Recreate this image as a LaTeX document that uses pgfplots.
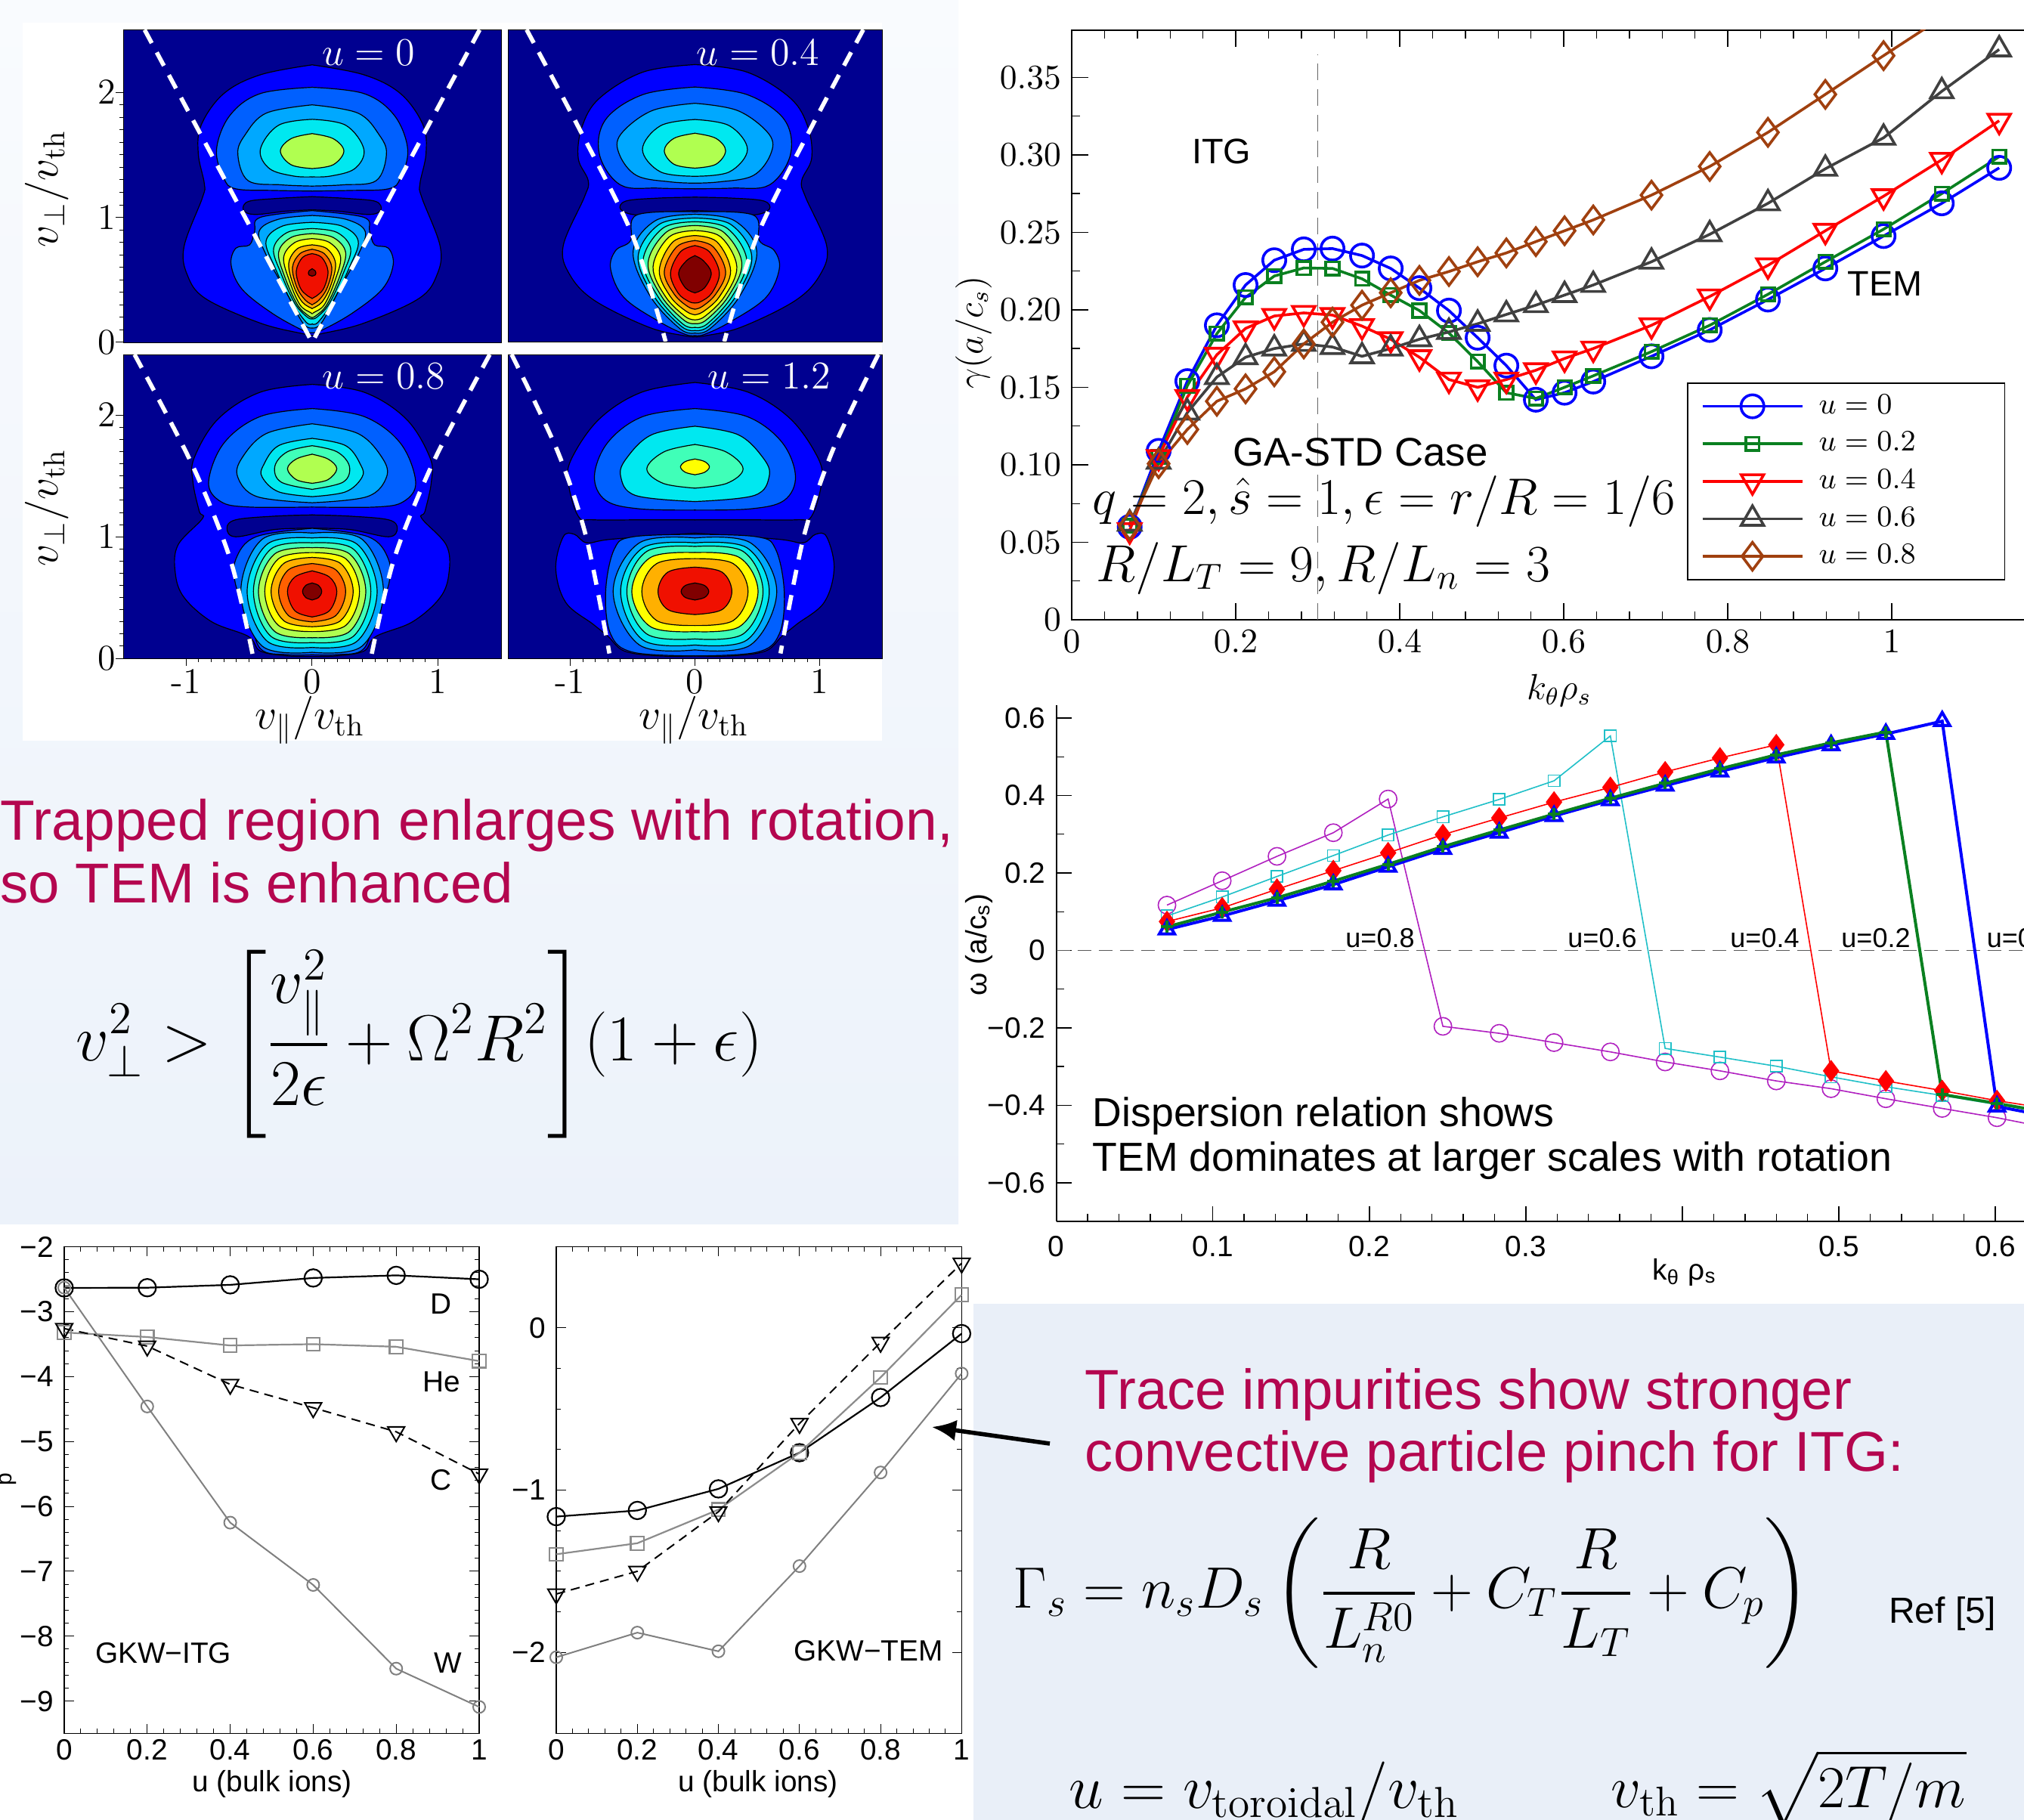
\RequirePackage{fix-cm}
\documentclass[border=0pt]{standalone}
\usepackage[no-math]{fontspec}
\setmainfont{Liberation Sans}
\usepackage{amsmath}
\usepackage{pgfplots}
\usetikzlibrary{arrows.meta}
\pgfplotsset{compat=1.18}
\definecolor{navy}{HTML}{000090}
\definecolor{ca}{HTML}{0000FF}
\definecolor{cb}{HTML}{0060FF}
\definecolor{cc}{HTML}{00A8FF}
\definecolor{cd}{HTML}{00E8F0}
\definecolor{ce}{HTML}{40FFB8}
\definecolor{cf}{HTML}{B0FF50}
\definecolor{cg}{HTML}{FFFF00}
\definecolor{ch}{HTML}{FFB000}
\definecolor{ci}{HTML}{FF6000}
\definecolor{cj}{HTML}{F01000}
\definecolor{ck}{HTML}{800000}
\definecolor{crim}{HTML}{B4064F}
\definecolor{brn}{HTML}{A0400F}
\definecolor{grn}{HTML}{0A8020}
\definecolor{mag}{HTML}{B020C0}
\definecolor{cya}{HTML}{20C0C8}
\definecolor{bgtop}{HTML}{F9FBFE}
\definecolor{bgbot}{HTML}{ECF2FA}
\definecolor{bgbox}{HTML}{E9EFF8}
\newcommand\fs[1]{\fontsize{#1}{#1}\selectfont}
\newcommand\cn[2]{%
 \addplot[fill=#1,draw=black,line width=.3pt,smooth,tension=.6] table[header=false,row sep=\\,x expr=\thisrowno{0}-0.004,y index=1]{#2};
 \addplot[fill=#1,draw=black,line width=.3pt,smooth,tension=.6] table[header=false,row sep=\\,x expr=-\thisrowno{0}+0.004,y index=1]{#2};
}
\newcommand\wdash[1]{%
 \addplot[white,line width=1.4pt,dash pattern=on 5pt off 3.5pt,smooth] coordinates {#1};
}
\newcommand\lgd[1]{\makebox[58pt][l]{\hspace*{3pt}$u=#1$}}
\pgfplotsset{
 cpanel/.style={scale only axis,xmin=-1.5,xmax=1.5,ymin=0,ymax=2.5,axis background/.style={fill=navy},
  axis line style={line width=.2pt},tick align=outside,tick style={black,line width=.25pt},
  major tick length=2.4pt,minor tick length=1.2pt,minor tick num=9,
  ticklabel style={font=\fs{12}},xticklabel style={yshift=2pt},yticklabel style={xshift=3.4pt},
  xtick pos=bottom,ytick pos=left},
 gk/.style={scale only axis,xmin=0,xmax=1,xtick={0,.2,.4,.6,.8,1},xticklabels={0,0.2,0.4,0.6,0.8,1},minor x tick num=4,
  tick align=inside,major tick length=3.2pt,minor tick length=1.6pt,tick style={black,line width=.25pt},
  axis line style={line width=.35pt},ticklabel style={font=\fs{9.7}},clip=false,
  xticklabel style={yshift=1.5pt},tick pos=both},
}
\begin{document}
\begin{tikzpicture}
\useasboundingbox (0,0) rectangle (669.5pt,-602pt);
\fill[white] (0,0) rectangle (669.5pt,-602pt);
\shade[top color=bgtop,bottom color=bgbot] (0,0) rectangle (317pt,-405pt);
\fill[white] (7.5pt,-7.5pt) rectangle (291.8pt,-245pt);
\fill[white] (0,-405pt) rectangle (322pt,-602pt);
\fill[bgbox] (322pt,-431.2pt) rectangle (669.5pt,-602pt);

% ---------------- contour panels
\begin{axis}[cpanel,at={(40.75pt,-113.25pt)},anchor=south west,width=125pt,height=103.4pt,
  xtick=\empty,ytick={0,1,2},yticklabels={$0$,$1$,$2$}]
\cn{ca}{0 2.22\\.415 2.14\\.705 1.99\\.884 1.74\\.908 1.51\\.86 1.27\\.874 1.16\\1.02 .77\\.995 .54\\.85 .35\\.415 .154\\.08 .07\\0 .058\\}
\cn{navy}{0 1.166\\.3 1.15\\.51 1.127\\.55 1.06\\.46 1.023\\.2 1.05\\0 1.06\\}
\cn{cb}{0 2.04\\.415 1.99\\.657 1.815\\.763 1.544\\.705 1.313\\.61 1.228\\.3 1.215\\0 1.21\\}
\cn{cc}{0 1.9\\.367 1.834\\.536 1.66\\.594 1.506\\.512 1.293\\.25 1.26\\0 1.25\\}
\cn{cd}{0 1.784\\.27 1.737\\.415 1.544\\.343 1.39\\.15 1.33\\0 1.324\\}
\cn{cf}{0 1.67\\.17 1.63\\.256 1.53\\.17 1.42\\0 1.39\\}
\cn{cb}{0 1.054\\.415 1\\.46 .888\\.5 .78\\.61 .753\\.647 .618\\.56 .425\\.32 .232\\.08 .097\\0 .077\\}
\cn{cc}{0 1.015\\.27 .985\\.425 .888\\.367 .695\\.222 .425\\.077 .154\\0 .116\\}
\cn{cd}{0 .96\\.24 .93\\.37 .81\\.3 .6\\.17 .33\\.05 .16\\0 .15\\}
\cn{ce}{0 .91\\.2 .88\\.31 .75\\.25 .55\\.14 .31\\.04 .2\\0 .19\\}
\cn{cf}{0 .87\\.17 .84\\.27 .72\\.22 .52\\.12 .3\\.03 .21\\0 .2\\}
\cn{cg}{0 .83\\.14 .8\\.23 .68\\.18 .48\\.1 .3\\.02 .24\\0 .23\\}
\cn{ch}{0 .78\\.12 .75\\.19 .63\\.15 .45\\.08 .32\\0 .27\\}
\cn{ci}{0 .745\\.1 .71\\.16 .6\\.125 .44\\.06 .34\\0 .3\\}
\cn{cj}{0 .71\\.08 .68\\.13 .57\\.1 .44\\.05 .38\\0 .35\\}
\cn{ck}{0 .59\\.03 .57\\.03 .54\\0 .53\\}
\wdash{(-1.33,2.5)(0,0)}
\wdash{(1.33,2.5)(0,0)}
\end{axis}
\begin{axis}[cpanel,at={(168pt,-113pt)},anchor=south west,width=123.75pt,height=103.2pt,
  xtick=\empty,ytick=\empty]
\cn{ca}{0 2.22\\.42 2.16\\.77 1.95\\.91 1.72\\.94 1.47\\.86 1.29\\.89 1.16\\1.06 .77\\1.01 .54\\.81 .33\\.375 .116\\.08 .046\\0 .04\\}
\cn{navy}{0 1.158\\.3 1.15\\.556 1.127\\.6 1.06\\.47 1.015\\.2 1.04\\0 1.05\\}
\cn{cb}{0 2.04\\.42 1.98\\.72 1.78\\.77 1.5\\.6 1.255\\.3 1.23\\0 1.225\\}
\cn{cc}{0 1.91\\.35 1.85\\.6 1.66\\.61 1.5\\.47 1.33\\.2 1.28\\0 1.27\\}
\cn{cd}{0 1.78\\.28 1.73\\.425 1.54\\.28 1.36\\0 1.325\\}
\cn{cf}{0 1.67\\.17 1.63\\.25 1.53\\.17 1.42\\0 1.39\\}
\cn{cb}{0 1.04\\.47 1.015\\.52 .81\\.64 .73\\.68 .58\\.57 .35\\.28 .154\\.08 .058\\0 .05\\}
\cn{cc}{0 1.02\\.32 .97\\.5 .72\\.36 .36\\.12 .1\\0 .07\\}
\cn{cd}{0 .99\\.29 .94\\.46 .68\\.33 .36\\.11 .12\\0 .09\\}
\cn{ce}{0 .96\\.26 .91\\.42 .65\\.3 .36\\.1 .14\\0 .115\\}
\cn{cf}{0 .93\\.23 .88\\.38 .63\\.27 .36\\.09 .17\\0 .145\\}
\cn{cg}{0 .89\\.21 .84\\.34 .6\\.24 .36\\.08 .2\\0 .175\\}
\cn{ch}{0 .85\\.18 .8\\.29 .57\\.2 .36\\.07 .24\\0 .215\\}
\cn{ci}{0 .81\\.15 .76\\.25 .56\\.17 .38\\.06 .28\\0 .26\\}
\cn{cj}{0 .77\\.12 .72\\.2 .55\\.14 .39\\.05 .32\\0 .31\\}
\cn{ck}{0 .69\\.07 .65\\.135 .55\\.08 .43\\0 .39\\}
\wdash{(-1.35,2.5)(-.94,1.73)(-.5,.85)(-.235,0)}
\wdash{(1.35,2.5)(.94,1.73)(.5,.85)(.235,0)}
\end{axis}
\begin{axis}[cpanel,at={(40.75pt,-217.75pt)},anchor=south west,width=125pt,height=100.5pt,
  xtick={-1,0,1},xticklabels={$\mathchar"002D 1$,$0$,$1$},ytick={0,1,2},yticklabels={$0$,$1$,$2$}]
\cn{ca}{0 2.254\\.415 2.19\\.75 1.97\\.94 1.65\\.95 1.45\\.9 1.21\\.875 1.15\\1.07 .93\\1.09 .7\\1.02 .5\\.8 .3\\.51 .18\\.415 .06\\.2 .02\\0 .016\\}
\cn{navy}{0 1.18\\.3 1.17\\.61 1.14\\.68 1.07\\.61 1\\.3 1.06\\0 1.07\\}
\cn{cb}{0 2.055\\.415 1.99\\.705 1.77\\.826 1.45\\.73 1.29\\.51 1.245\\0 1.245\\}
\cn{cc}{0 1.93\\.367 1.85\\.56 1.65\\.594 1.49\\.44 1.33\\0 1.28\\}
\cn{cd}{0 1.81\\.27 1.75\\.39 1.59\\.4 1.49\\.27 1.37\\0 1.33\\}
\cn{ce}{0 1.75\\.2 1.7\\.3 1.58\\.25 1.45\\0 1.39\\}
\cn{cf}{0 1.68\\.13 1.64\\.2 1.56\\.13 1.47\\0 1.44\\}
\cn{cb}{0 1.07\\.45 1\\.61 .815\\.61 .6\\.51 .38\\.415 .08\\.2 .03\\0 .03\\}
\cn{cc}{0 1.03\\.4 .98\\.57 .55\\.4 .1\\0 .05\\}
\cn{cd}{0 .99\\.36 .94\\.52 .55\\.36 .14\\0 .09\\}
\cn{ce}{0 .95\\.33 .9\\.47 .55\\.33 .18\\0 .13\\}
\cn{cf}{0 .91\\.3 .86\\.43 .55\\.3 .22\\0 .17\\}
\cn{cg}{0 .87\\.27 .82\\.38 .55\\.27 .27\\0 .22\\}
\cn{ch}{0 .83\\.23 .78\\.33 .55\\.23 .31\\0 .26\\}
\cn{ci}{0 .78\\.19 .73\\.27 .55\\.19 .35\\0 .3\\}
\cn{cj}{0 .72\\.14 .67\\.2 .55\\.14 .39\\0 .34\\}
\cn{ck}{0 .62\\.055 .6\\.08 .55\\.055 .5\\0 .48\\}
\wdash{(-1.41,2.5)(-.96,1.61)(-.65,.815)(-.47,.02)}
\wdash{(1.41,2.5)(.96,1.61)(.65,.815)(.47,.02)}
\end{axis}
\begin{axis}[cpanel,at={(168pt,-217.75pt)},anchor=south west,width=123.75pt,height=100.5pt,
  xtick={-1,0,1},xticklabels={$\mathchar"002D 1$,$0$,$1$},ytick=\empty]
\cn{ca}{0 2.27\\.43 2.19\\.77 1.97\\.99 1.65\\1.02 1.45\\.94 1.17\\.82 1.14\\.4 1.14\\0 1.14\\}
\cn{ca}{0 1.03\\.67 .98\\.87 .95\\.97 1.02\\1.06 1\\1.12 .74\\1.04 .46\\.82 .28\\.7 .18\\.57 .06\\.3 .02\\0 .02\\}
\cn{cb}{0 2.055\\.42 1.99\\.7 1.78\\.81 1.5\\.72 1.3\\.45 1.23\\0 1.22\\}
\cn{cd}{0 1.91\\.35 1.84\\.55 1.65\\.6 1.5\\.48 1.34\\0 1.29\\}
\cn{ce}{0 1.76\\.25 1.7\\.39 1.56\\.26 1.44\\0 1.4\\}
\cn{cg}{0 1.64\\.08 1.62\\.12 1.575\\.08 1.53\\0 1.51\\}
\cn{cb}{0 1.02\\.5 1\\.65 .9\\.72 .55\\.68 .2\\.5 .05\\0 .02\\}
\cn{cc}{0 .99\\.45 .95\\.66 .55\\.45 .11\\0 .07\\}
\cn{cd}{0 .95\\.42 .91\\.6 .55\\.42 .15\\0 .11\\}
\cn{ce}{0 .92\\.39 .88\\.55 .55\\.39 .2\\0 .16\\}
\cn{cg}{0 .87\\.36 .83\\.51 .55\\.36 .26\\0 .22\\}
\cn{ch}{0 .82\\.31 .78\\.43 .55\\.31 .31\\0 .27\\}
\cn{cj}{0 .75\\.22 .71\\.3 .55\\.22 .4\\0 .36\\}
\cn{ck}{0 .62\\.08 .6\\.115 .55\\.08 .5\\0 .48\\}
\wdash{(-1.47,2.5)(-1.1,1.7)(-.87,.99)(-.686,.04)}
\wdash{(1.47,2.5)(1.1,1.7)(.87,.99)(.686,.04)}
\end{axis}

% ---------------- growth rate
\begin{axis}[scale only axis,at={(354.5pt,-205pt)},anchor=south west,width=320pt,height=195pt,
  xmin=0,xmax=1.1797,ymin=0,ymax=.3804,
  xtick={0,.2,.4,.6,.8,1},xticklabels={$0$,$0.2$,$0.4$,$0.6$,$0.8$,$1$},minor x tick num=4,
  ytick={0,.05,.1,.15,.2,.25,.3,.35},yticklabels={$0$,$0.05$,$0.10$,$0.15$,$0.20$,$0.25$,$0.30$,$0.35$},minor y tick num=1,
  ytick pos=left,
  tick align=inside,major tick length=5.6pt,minor tick length=2.8pt,tick style={black,line width=.35pt},
  axis line style={line width=.5pt},ticklabel style={font=\fs{11.4}},
  legend style={at={(.636,.4026)},anchor=north west,draw=black,line width=.4pt,font=\fs{9.8},row sep=0pt,inner sep=1.5pt,inner xsep=4.5pt,
    cells={anchor=west},nodes={minimum height=12.4pt,inner ysep=0pt,inner xsep=2pt}},
  legend image code/.code={\draw[mark repeat=2,mark phase=2,#1] plot coordinates {(0pt,0pt)(16.5pt,0pt)(33pt,0pt)};},
  legend cell align=left]
\addplot[black!60,line width=.3pt,dash pattern=on 5.5pt off 3pt,forget plot] coordinates {(.3,0)(.3,.365)};
\addplot[blue,line width=.9pt,mark=o,mark size=3.8pt,mark options={solid}] coordinates {(.0707,.06)(.106,.109)(.141,.154)(.177,.19)(.212,.216)(.247,.232)(.283,.239)(.318,.2395)(.354,.235)(.389,.2267)(.424,.214)(.46,.1995)(.495,.182)(.53,.164)(.566,.142)(.601,.1465)(.636,.1537)(.707,.17)(.778,.187)(.849,.2066)(.919,.2267)(.99,.2476)(1.061,.2687)(1.131,.2916)};
\addplot[grn,line width=.9pt,mark=square,mark size=2.2pt] coordinates {(.0707,.0607)(.106,.105)(.141,.151)(.177,.1846)(.212,.208)(.247,.2218)(.283,.227)(.318,.2267)(.354,.22)(.389,.2095)(.424,.1995)(.46,.185)(.495,.1666)(.53,.1465)(.566,.1428)(.601,.15)(.636,.1574)(.707,.173)(.778,.19)(.849,.21)(.919,.231)(.99,.252)(1.061,.275)(1.131,.2988)};
\addplot[red,line width=.9pt,mark=triangle,mark size=4.3pt,mark options={rotate=180}] coordinates {(.0707,.0578)(.106,.105)(.141,.1437)(.177,.171)(.212,.188)(.247,.196)(.283,.198)(.318,.1966)(.354,.1895)(.389,.181)(.424,.1694)(.46,.155)(.495,.15)(.53,.155)(.566,.161)(.601,.1686)(.636,.175)(.707,.19)(.778,.2086)(.849,.2287)(.919,.251)(.99,.2733)(1.061,.2968)(1.131,.322)};
\addplot[black!75,line width=.9pt,mark=triangle,mark size=4.3pt] coordinates {(.0707,.062)(.106,.102)(.141,.1337)(.177,.1566)(.212,.1694)(.247,.175)(.283,.178)(.318,.176)(.354,.17)(.389,.175)(.424,.181)(.46,.1857)(.495,.191)(.53,.197)(.566,.203)(.601,.2095)(.636,.216)(.707,.231)(.778,.2487)(.849,.2687)(.919,.291)(.99,.311)(1.061,.341)(1.131,.368)};
\addplot[brn,line width=.9pt,mark=diamond,mark size=4.6pt] coordinates {(.0707,.0607)(.106,.1007)(.141,.1228)(.177,.141)(.212,.149)(.247,.16)(.283,.178)(.318,.192)(.354,.203)(.389,.211)(.424,.219)(.46,.2247)(.495,.231)(.53,.2367)(.566,.244)(.601,.251)(.636,.258)(.707,.274)(.778,.2925)(.849,.3145)(.919,.339)(.99,.364)(1.061,.3885)(1.131,.415)};
\legend{\lgd{0},\lgd{0.2},\lgd{0.4},\lgd{0.6},\lgd{0.8}}
\end{axis}

% ---------------- dispersion
\begin{axis}[scale only axis,at={(349.4pt,-403.9pt)},anchor=south west,width=325.6pt,height=170.6pt,
  xmin=0,xmax=.6289,ymin=-.699,ymax=.633,
  axis x line*=bottom,axis y line*=left,
  xtick={0,.1,.2,.3,.4,.5,.6},xticklabels={0,0.1,0.2,0.3,,0.5,0.6},minor x tick num=4,
  ytick={-.6,-.4,-.2,0,.2,.4,.6},yticklabels={−0.6,−0.4,−0.2,0,0.2,0.4,0.6},minor y tick num=1,
  tick align=inside,major tick length=5pt,minor tick length=2.5pt,tick style={black,line width=.35pt},
  axis line style={line width=.5pt},ticklabel style={font=\fs{9.7}},xticklabel style={yshift=-1.5pt}]
\addplot[black!65,line width=.35pt,dash pattern=on 4.5pt off 2.5pt] coordinates {(0,0)(.64,0)};
\addplot[mag,line width=.4pt,mark=o,mark size=2.9pt] coordinates {(.0707,.117)(.106,.18)(.141,.243)(.177,.304)(.212,.391)(.247,-.196)(.283,-.214)(.318,-.238)(.354,-.262)(.389,-.288)(.424,-.311)(.46,-.337)(.495,-.357)(.53,-.383)(.566,-.408)(.601,-.432)(.636,-.46)};
\addplot[cya,line width=.4pt,mark=square,mark size=1.9pt] coordinates {(.0707,.089)(.106,.138)(.141,.191)(.177,.245)(.212,.298)(.247,.345)(.283,.39)(.318,.438)(.354,.554)(.389,-.253)(.424,-.2755)(.46,-.299)(.495,-.3265)(.53,-.352)(.566,-.3745)(.601,-.398)(.636,-.42)};
\addplot[red,line width=.4pt,mark=diamond*,mark size=3.3pt] coordinates {(.0707,.0745)(.106,.11)(.141,.158)(.177,.206)(.212,.252)(.247,.299)(.283,.342)(.318,.383)(.354,.421)(.389,.461)(.424,.497)(.46,.531)(.495,-.311)(.53,-.337)(.566,-.362)(.601,-.388)(.636,-.41)};
\addplot[blue,line width=1pt,mark=triangle,mark size=2.9pt] coordinates {(.0707,.054)(.106,.089)(.141,.128)(.177,.17)(.212,.216)(.247,.262)(.283,.304)(.318,.347)(.354,.388)(.389,.4255)(.424,.462)(.46,.498)(.495,.53)(.53,.559)(.566,.592)(.601,-.403)(.636,-.43)};
\addplot[grn,line width=1pt,mark=+,mark size=2pt] coordinates {(.0707,.061)(.106,.099)(.141,.136)(.177,.179)(.212,.2224)(.247,.268)(.283,.311)(.318,.352)(.354,.393)(.389,.4316)(.424,.469)(.46,.505)(.495,.536)(.53,.564)(.566,-.372)(.601,-.395)(.636,-.42)};
\end{axis}

% ---------------- GKW ITG
\begin{axis}[gk,at={(21.25pt,-573.4pt)},anchor=south west,width=137.25pt,height=161pt,ymin=-9.5,ymax=-2,
  ytick={-9,-8,-7,-6,-5,-4,-3,-2},yticklabels={−9,−8,−7,−6,−5,−4,−3,−2},minor y tick num=4]
\addplot[black,line width=.55pt,mark=o,mark size=2.9pt] coordinates {(0,-2.633)(.2,-2.63)(.4,-2.586)(.6,-2.48)(.8,-2.44)(1,-2.5)};
\addplot[black!45,line width=.55pt,mark=square,mark size=2.2pt] coordinates {(0,-3.32)(.2,-3.39)(.4,-3.52)(.6,-3.5)(.8,-3.54)(1,-3.76)};
\addplot[black,line width=.5pt,dash pattern=on 3pt off 2pt,mark=triangle,mark size=3.2pt,mark options={solid,rotate=180}] coordinates {(0,-3.26)(.2,-3.53)(.4,-4.12)(.6,-4.48)(.8,-4.85)(1,-5.5)};
\addplot[black!50,line width=.5pt,mark=o,mark size=2pt] coordinates {(0,-2.63)(.2,-4.46)(.4,-6.25)(.6,-7.21)(.8,-8.5)(1,-9.09)};
\end{axis}
% ---------------- GKW TEM
\begin{axis}[gk,at={(184pt,-573.4pt)},anchor=south west,width=134.1pt,height=161pt,ymin=-2.5,ymax=.5,
  ytick={-2,-1,0},yticklabels={−2,−1,0},minor y tick num=3,tick pos=both]
\addplot[black,line width=.55pt,mark=o,mark size=2.9pt] coordinates {(0,-1.163)(.2,-1.125)(.4,-.992)(.6,-.769)(.8,-.429)(1,-.035)};
\addplot[black!45,line width=.55pt,mark=square,mark size=2.2pt] coordinates {(0,-1.395)(.2,-1.327)(.4,-1.12)(.6,-.769)(.8,-.305)(1,.204)};
\addplot[black,line width=.5pt,dash pattern=on 3pt off 2pt,mark=triangle,mark size=3.2pt,mark options={solid,rotate=180}] coordinates {(0,-1.64)(.2,-1.5)(.4,-1.133)(.6,-.589)(.8,-.089)(1,.399)};
\addplot[black!50,line width=.5pt,mark=o,mark size=2pt] coordinates {(0,-2.03)(.2,-1.878)(.4,-1.993)(.6,-1.468)(.8,-.891)(1,-.281)};
\end{axis}

% ---------------- annotations
\begin{scope}[x=0.25pt,y=-0.25pt]
\node[rotate=90,font=\fs{14.4}] at (62,250) {$v_\perp/v_{\rm th}$};
\node[rotate=90,font=\fs{14.4}] at (62,672) {$v_\perp/v_{\rm th}$};
\node[font=\fs{14.4}] at (410,953) {$v_\parallel/v_{\rm th}$};
\node[font=\fs{14.4}] at (918,953) {$v_\parallel/v_{\rm th}$};
\node[white,font=\fs{13}] at (488,70) {$u=0$};
\node[white,font=\fs{13}] at (1003,70) {$u=0.4$};
\node[white,font=\fs{13}] at (508,498) {$u=0.8$};
\node[white,font=\fs{13}] at (1018,498) {$u=1.2$};

\node[crim,anchor=west,inner sep=0,font=\fs{18.75}] at (0,1092) {Trapped region enlarges with rotation,};
\node[crim,anchor=west,inner sep=0,font=\fs{18.6}] at (0,1168) {so TEM is enhanced};
\node[anchor=west,inner sep=0,font=\fs{21.6}] at (100,1382) {$\displaystyle v_\perp^2>\Bigg[\frac{v_\parallel^2}{2\epsilon}+\Omega^2R^2\Bigg](1+\epsilon)$};

\node[font=\fs{11.7}] at (1616,200) {ITG};
\node[font=\fs{11.7}] at (2494,375) {TEM};
\node[font=\fs{13.2}] at (1800,598) {GA-STD Case};
\node[anchor=west,inner sep=0,font=\fs{17}] at (1445,663) {$q=2,\hat{s}=1,\epsilon=r/R=1/6$};
\node[anchor=west,inner sep=0,font=\fs{17.28}] at (1450,752) {$R/L_T=9,R/L_n=3$};
\node[font=\fs{12}] at (2063,913) {$k_\theta\rho_s$};
\node[rotate=90,font=\fs{12}] at (1288,440) {$\gamma(a/c_s)$};

\node[rotate=90,font=\fs{9.7}] at (1295,1250) {ω (a/c$_{\text{s}}$)};
\node[font=\fs{9.7}] at (2229,1683) {k$_{\text{θ}}$ ρ$_{\text{s}}$};
\node[anchor=base west,inner sep=0,font=\fs{13.4}] at (1445,1490) {Dispersion relation shows};
\node[anchor=base west,inner sep=0,font=\fs{13.4}] at (1445,1549) {TEM dominates at larger scales with rotation};
\node[font=\fs{9}] at (1826,1241) {u=0.8};
\node[font=\fs{9}] at (2120,1241) {u=0.6};
\node[font=\fs{9}] at (2335,1241) {u=0.4};
\node[font=\fs{9}] at (2482,1241) {u=0.2};
\node[anchor=west,inner sep=0,font=\fs{9}] at (2628,1241) {u=0};

\node[font=\fs{9.7}] at (584,1725) {D};
\node[font=\fs{9.7}] at (584,1828) {He};
\node[font=\fs{9.7}] at (584,1958) {C};
\node[font=\fs{9.7}] at (593,2200) {W};
\node[font=\fs{9.7}] at (216,2187) {GKW−ITG};
\node[font=\fs{9.7}] at (1149,2184) {GKW−TEM};
\node[font=\fs{9.7}] at (360,2360) {u (bulk ions)};
\node[font=\fs{9.7}] at (1003,2360) {u (bulk ions)};
\node[rotate=90,font=\fs{7.5},inner sep=0] at (11,1957) {p};
\draw[black,line width=1.4pt,-{Latex[length=8pt,width=7pt]}] (1389,1910) -- (1233,1888);

\node[crim,anchor=west,inner sep=0,font=\fs{18.6}] at (1435,1845) {Trace impurities show stronger};
\node[crim,anchor=west,inner sep=0,font=\fs{18.6}] at (1435,1927) {convective particle pinch for ITG:};
\node[anchor=west,inner sep=0,font=\fs{19.3}] at (1340,2108) {$\displaystyle \Gamma_s=n_sD_s\left(\frac{R}{L_n^{R0}}+C_T\frac{R}{L_T}+C_p\right)$};
\node[font=\fs{12}] at (2570,2135) {Ref [5]};
\node[anchor=west,inner sep=0,font=\fs{20.5}] at (1414,2372) {$u=v_{\rm toroidal}/v_{\rm th}$};
\node[anchor=west,inner sep=0,font=\fs{19.7}] at (2131,2366) {$v_{\rm th}=\sqrt{2T/m}$};
\end{scope}
\end{tikzpicture}
\end{document}
